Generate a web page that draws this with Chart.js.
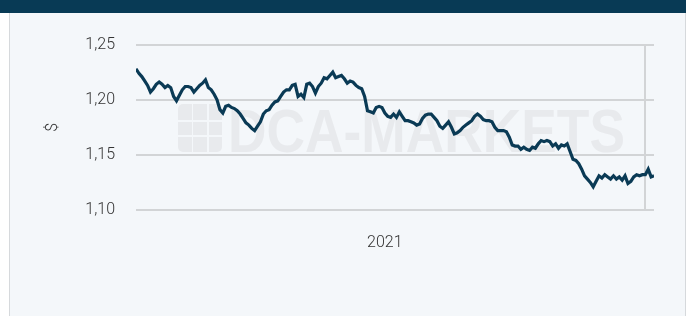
<!DOCTYPE html>
<html>
<head>
<meta charset="utf-8">
<script src="https://cdn.jsdelivr.net/npm/chart.js@4/dist/chart.umd.min.js"></script>
<style>
  html, body { margin: 0; padding: 0; background: #fff; width: 686px; height: 316px; overflow: hidden; }
  #top { position: absolute; left: 0; top: 0; width: 686px; height: 13px; background: #083a55; }
  #panel { position: absolute; left: 9px; top: 13px; width: 675px; height: 303px; background: #f4f7fa;
           border-left: 1px solid #d6d9dc; border-right: 1px solid #d6d9dc; }
  #wrap { position: absolute; left: 10px; top: 14px; width: 675px; height: 302px; }
</style>
</head>
<body>
<div id="top"></div>
<div id="panel"></div>
<div id="wrap"><canvas id="c"></canvas></div>
<script>
/* EUR/USD 2021, linea diaria aprox. */
const eurusd = [
  1.228, 1.224, 1.221, 1.217, 1.213, 1.207, 1.210, 1.214, 1.216, 1.214,
  1.211, 1.213, 1.211, 1.203, 1.199, 1.204, 1.209, 1.212, 1.212, 1.211,
  1.207, 1.210, 1.213, 1.215, 1.218, 1.211, 1.209, 1.205, 1.200, 1.191,
  1.188, 1.194, 1.195, 1.193, 1.192, 1.190, 1.187, 1.183, 1.179, 1.177,
  1.174, 1.172, 1.176, 1.180, 1.187, 1.190, 1.191, 1.195, 1.198, 1.199,
  1.203, 1.207, 1.209, 1.209, 1.213, 1.214, 1.203, 1.205, 1.202, 1.214,
  1.215, 1.212, 1.206, 1.212, 1.215, 1.220, 1.219, 1.222, 1.225, 1.220,
  1.221, 1.222, 1.219, 1.215, 1.217, 1.216, 1.213, 1.211, 1.210, 1.203,
  1.190, 1.189, 1.188, 1.193, 1.194, 1.193, 1.188, 1.185, 1.184, 1.187,
  1.184, 1.189, 1.185, 1.181, 1.181, 1.180, 1.179, 1.177, 1.178, 1.183,
  1.186, 1.187, 1.187, 1.184, 1.181, 1.176, 1.174, 1.177, 1.180, 1.175,
  1.169, 1.170, 1.172, 1.175, 1.177, 1.179, 1.181, 1.185, 1.187, 1.185,
  1.182, 1.181, 1.181, 1.180, 1.175, 1.172, 1.172, 1.172, 1.171, 1.166,
  1.159, 1.158, 1.158, 1.155, 1.157, 1.155, 1.154, 1.157, 1.156, 1.160,
  1.163, 1.162, 1.163, 1.162, 1.158, 1.160, 1.156, 1.159, 1.158, 1.160,
  1.153, 1.146, 1.145, 1.142, 1.137, 1.131, 1.128, 1.125, 1.121, 1.126,
  1.131, 1.129, 1.132, 1.130, 1.128, 1.131, 1.128, 1.130, 1.127, 1.131,
  1.124, 1.126, 1.130, 1.132, 1.131, 1.132, 1.132, 1.137, 1.130, 1.131,
];
const yTicks = [1.10, 1.15, 1.20, 1.25];
const yearLabel = '2021';
const yearLabelAt = 86;   // indice donde va la etiqueta del año
const yearEndAt = 176;    // indice del corte de año (linea vertical)

const FONT = "Roboto, 'DejaVu Sans Condensed', sans-serif";
const fmt = v => (+v).toFixed(2).replace('.', ',');

// Marca de agua DCA-MARKETS detras de la linea
const marcaAgua = {
  id: 'marcaAgua',
  beforeDatasetsDraw(chart) {
    const ctx = chart.ctx;
    ctx.save();
    ctx.fillStyle = '#e8eaed';
    const cols = [[168, 14], [183, 14], [199, 13]];
    const rows = [[90, 16], [108, 13], [123, 15]];
    cols.forEach(([x, w], ci) => rows.forEach(([y, h], ri) => {
      const r = [0, 0, 0, 0];
      if (ci === 0 && ri === 0) r[0] = 5;
      if (ci === 2 && ri === 0) r[1] = 5;
      if (ci === 2 && ri === 2) r[2] = 5;
      if (ci === 0 && ri === 2) r[3] = 5;
      ctx.beginPath(); ctx.roundRect(x, y, w, h, r); ctx.fill();
    }));
    const txt = 'DCA-MARKETS';
    ctx.font = "bold 60px 'Liberation Sans', sans-serif";
    const w = ctx.measureText(txt).width;
    ctx.translate(218, 138);
    ctx.scale(397 / w, 44 / 43);
    ctx.textBaseline = 'alphabetic';
    ctx.fillText(txt, 0, 0);
    ctx.restore();
  }
};

new Chart(document.getElementById('c'), {
  type: 'line',
  data: {
    labels: eurusd.map((_, i) => i),
    datasets: [{
      data: eurusd.map((v, i) => ({ x: i, y: v })),
      borderColor: '#0a3a55', borderWidth: 3.2, pointRadius: 0, tension: 0, fill: false,
    }],
  },
  options: {
    responsive: true, maintainAspectRatio: false, animation: false,
    layout: { padding: { left: 33, right: 31, top: 30, bottom: 0 } },
    plugins: { legend: { display: false }, tooltip: { enabled: false } },
    scales: {
      x: {
        type: 'linear', min: 0, max: eurusd.length - 1,
        border: { display: false },
        afterBuildTicks: s => { s.ticks = [{ value: yearLabelAt }, { value: yearEndAt }]; },
        afterFit: s => { s.height = 106; },
        grid: { drawTicks: false, lineWidth: 2, color: c => (c.tick && c.tick.value === yearEndAt) ? '#d2d4d6' : 'rgba(0,0,0,0)' },
        ticks: { padding: 23, maxRotation: 0, autoSkip: false, color: '#333', font: { family: FONT, size: 16, weight: 300 },
                 callback: v => v === yearLabelAt ? yearLabel : '' },
      },
      y: {
        min: yTicks[0], max: yTicks[yTicks.length - 1],
        border: { display: false },
        afterBuildTicks: s => { s.ticks = yTicks.map(v => ({ value: v })); },
        afterFit: s => { s.width = 93; },
        grid: { drawTicks: false, lineWidth: 2, color: '#d2d4d6' },
        ticks: { padding: 21, color: '#333', font: { family: FONT, size: 16, weight: 300 }, callback: fmt },
        title: { display: true, text: '$', color: '#333', padding: { top: 0, bottom: 0 }, font: { family: FONT, size: 16, weight: 300 } },
      },
    },
  },
  plugins: [marcaAgua],
});
</script>
</body>
</html>
